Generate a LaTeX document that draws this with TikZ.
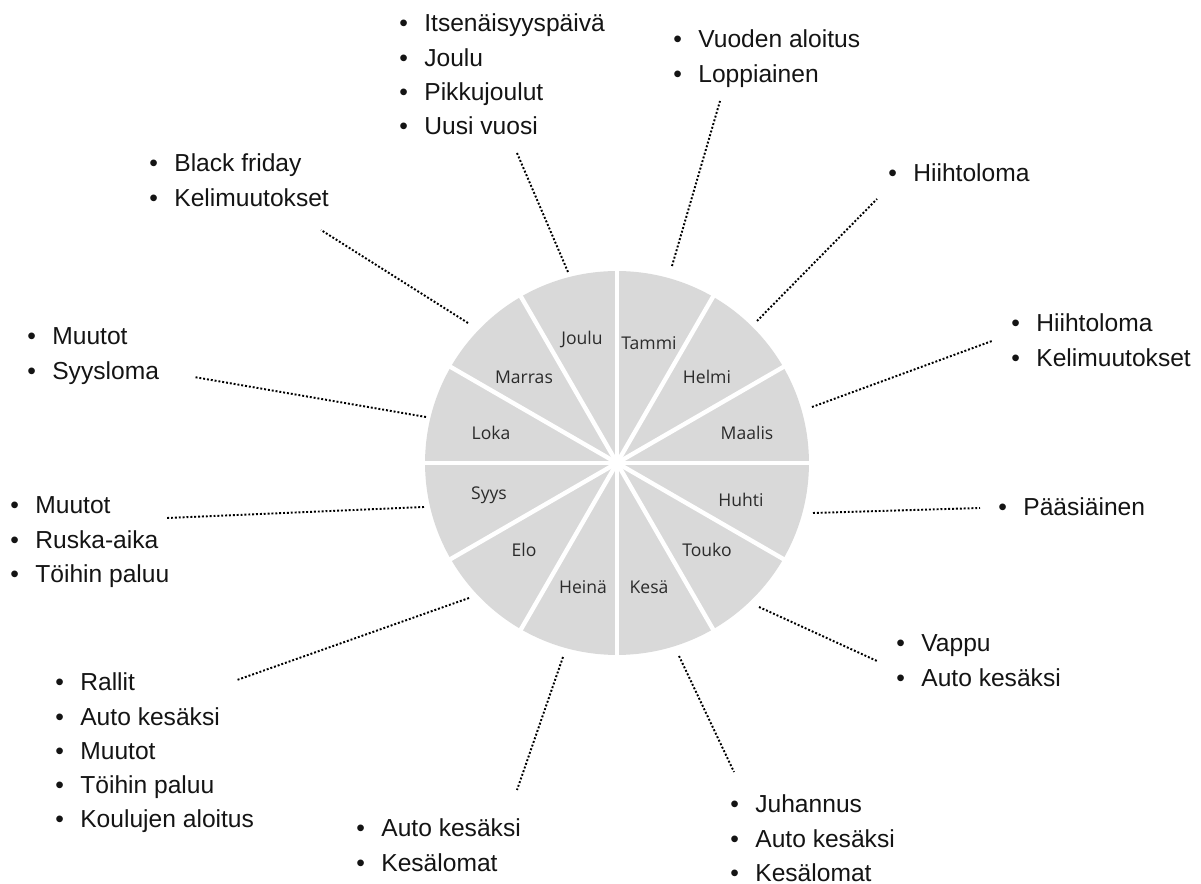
\documentclass[tikz,border=0pt]{standalone}
\usepackage{fontspec}
\setmainfont{Liberation Sans}
\newfontfamily\monthfont{Open Sans}
\definecolor{wheelgray}{HTML}{D9D9D9}
\definecolor{monthtext}{HTML}{2B2B2B}
\newcommand{\itm}{\makebox[0.5cm][l]{\textbullet}}
\newcommand{\evlist}[1]{\begin{tabular}[t]{@{}l@{}}#1\end{tabular}}

\begin{document}
\begin{tikzpicture}[x=0.02cm,y=-0.02cm,
    month/.style={font=\monthfont\fontsize{10}{12}\selectfont,text=monthtext,inner sep=0pt},
    events/.style={anchor=base west,inner sep=0pt,font=\fontsize{14}{19.45}\selectfont,text=black!92},
    dots/.style={line width=1.1pt,dash pattern=on 1.1pt off 1.1pt},
    gap/.style={white,line width=2.5pt}]
                \useasboundingbox (0,0) rectangle (1201,884);

                % wheel
                \coordinate (ctr) at (617,463);
                \fill[wheelgray] (ctr) circle (3.84cm);
                \foreach \a in {0,30,...,330}
                    \draw[gap] (ctr) -- ++(\a:3.95cm);

                % months
                \node[month] (tammi) at (649,343) {Tammi};
                \node[month] (helmi) at (707,377) {Helmi};
                \node[month] (maalis) at (747,433) {Maalis};
                \node[month] (huhti) at (741,500) {Huhti};
                \node[month] (touko) at (707,550) {Touko};
                \node[month] (kesa) at (649,587) {Kesä};
                \node[month] (heina) at (583,587) {Heinä};
                \node[month] (elo) at (524,550) {Elo};
                \node[month] (syys) at (489,495) {Syys};
                \node[month] (loka) at (491,433) {Loka};
                \node[month] (marras) at (524,377) {Marras};
                \node[month] (joulu) at (582,339) {Joulu};

                % events
                \node[events] (ev-joulu) at (399,32) {\evlist{\itm Itsenäisyyspäivä\\ \itm Joulu\\ \itm Pikkujoulut\\ \itm Uusi vuosi}};
                \node[events] (ev-tammi) at (673,48) {\evlist{\itm Vuoden aloitus\\ \itm Loppiainen}};
                \node[events] (ev-helmi) at (888,182) {\evlist{\itm Hiihtoloma}};
                \node[events] (ev-maalis) at (1011,332) {\evlist{\itm Hiihtoloma\\ \itm Kelimuutokset}};
                \node[events] (ev-huhti) at (998,516) {\evlist{\itm Pääsiäinen}};
                \node[events] (ev-touko) at (896,652) {\evlist{\itm Vappu\\ \itm Auto kesäksi}};
                \node[events] (ev-kesa) at (730,813) {\evlist{\itm Juhannus\\ \itm Auto kesäksi\\ \itm Kesälomat}};
                \node[events] (ev-heina) at (356,837) {\evlist{\itm Auto kesäksi\\ \itm Kesälomat}};
                \node[events] (ev-elo) at (55,691) {\evlist{\itm Rallit\\ \itm Auto kesäksi\\ \itm Muutot\\ \itm Töihin paluu\\ \itm Koulujen aloitus}};
                \node[events] (ev-syys) at (10,514) {\evlist{\itm Muutot\\ \itm Ruska-aika\\ \itm Töihin paluu}};
                \node[events] (ev-loka) at (27,345) {\evlist{\itm Muutot\\ \itm Syysloma}};
                \node[events] (ev-marras) at (149,172) {\evlist{\itm Black friday\\ \itm Kelimuutokset}};

                % dotted connectors
                \coordinate (joulu-in) at (568,272);   \coordinate (joulu-out) at (517,153);
                \coordinate (tammi-in) at (672,266);   \coordinate (tammi-out) at (720,101);
                \coordinate (helmi-in) at (757,321);   \coordinate (helmi-out) at (877,199);
                \coordinate (maalis-in) at (812,407);  \coordinate (maalis-out) at (992,341);
                \coordinate (huhti-in) at (813,513);   \coordinate (huhti-out) at (980,508);
                \coordinate (touko-in) at (759,607);   \coordinate (touko-out) at (877,661);
                \coordinate (kesa-in) at (679,656);    \coordinate (kesa-out) at (734,772);
                \coordinate (heina-in) at (563,657);   \coordinate (heina-out) at (517,790);
                \coordinate (elo-in) at (469,598);     \coordinate (elo-out) at (237,680);
                \coordinate (syys-in) at (424,507);    \coordinate (syys-out) at (167,518);
                \coordinate (loka-in) at (426,417);    \coordinate (loka-out) at (194,377);
                \coordinate (marras-in) at (468,323);  \coordinate (marras-out) at (321,230);
                \foreach \m in {joulu,tammi,helmi,maalis,huhti,touko,kesa,heina,elo,syys,loka,marras}
                    \draw[dots] (\m-in) -- (\m-out);

            \end{tikzpicture}
\end{document}
